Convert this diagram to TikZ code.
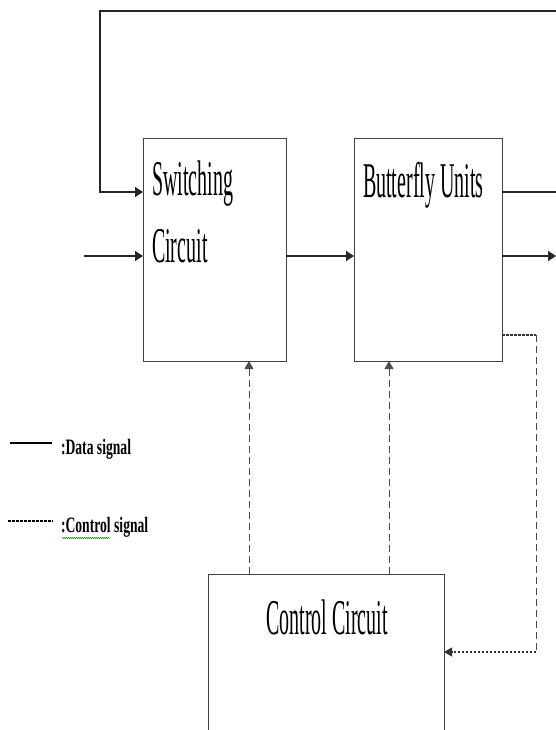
\documentclass[tikz,border=0pt]{standalone}
\usepackage{fontspec}
\usepackage{graphicx}
\setmainfont{Liberation Serif}
\usetikzlibrary{arrows.meta,decorations.pathmorphing}
\newcommand{\boxtxt}[1]{\scalebox{0.4}[1]{\fontsize{50}{60}\selectfont #1}}
\newcommand{\legtxt}[1]{\scalebox{0.62}[1]{\fontsize{22}{26}\selectfont\bfseries #1}}
\tikzset{
  blk/.style={draw=black!75, line width=0.9pt, rectangle, inner sep=0pt, outer sep=0pt, anchor=north west},
  lbl/.style={inner sep=0pt, outer sep=0pt, anchor=base west},
  data/.style={line width=1.3pt, black!85},
  dataarr/.style={data, -{Triangle[length=8pt,width=10pt]}},
  ctl/.style={line width=0.9pt, black!70, dash pattern=on 7pt off 4pt},
  ctldot/.style={line width=1.1pt, black!80, dash pattern=on 2.5pt off 1.5pt},
  ctlarr/.style={-{Triangle[length=8pt,width=9pt]}},
}
\begin{document}
\begin{tikzpicture}[x=1pt,y=-1pt]
\useasboundingbox (0,0) rectangle (556,730);
\clip (0,0) rectangle (556,730);
% blocks
\node[blk, minimum width=143pt, minimum height=223pt] (sw) at (143,138) {};
\node[blk, minimum width=148pt, minimum height=223pt] (bu) at (354,138) {};
\node[blk, minimum width=236pt, minimum height=220pt] (cc) at (208,574) {};
% labels
\node[lbl] (swt1) at (152,195) {\boxtxt{Switching}};
\node[lbl] (swt2) at (152,262) {\boxtxt{Circuit}};
\node[lbl] (but) at (363,197) {\boxtxt{Butterfly Units}};
\node[inner sep=0pt, anchor=base] (cct) at (327,634) {\boxtxt{Control Circuit}};
% helper coordinates
\coordinate (yA) at (0,192);
\coordinate (yB) at (0,256);
\coordinate (yC) at (0,335);
\coordinate (yD) at (0,652);
\coordinate (in) at (84,256);
\coordinate (out) at (556,256);
\coordinate (fbR) at (575,192);
\coordinate (fbTop) at (100,11);
\coordinate (dR) at (536,335);
\coordinate (xS) at (249,0);
\coordinate (xB) at (389,0);
% data connectors
\draw[dataarr] (bu.east |- yA) -- (fbR) |- (fbTop) |- (sw.west |- yA);
\draw[dataarr] (in) -- (sw.west |- yB);
\draw[dataarr] (sw.east |- yB) -- (bu.west |- yB);
\draw[dataarr] (bu.east |- yB) -- (out);
% control connectors
\draw[ctl, ctlarr] (cc.north -| xS) -- (sw.south -| xS);
\draw[ctl, ctlarr] (cc.north -| xB) -- (bu.south -| xB);
\draw[ctldot] (bu.east |- yC) -- (dR);
\draw[ctl] (dR) -- (dR |- yD);
\draw[ctldot, ctlarr] (dR |- yD) -- (cc.east |- yD);
% legend
\coordinate (l1a) at (10,443);
\coordinate (l1b) at (52,443);
\coordinate (l2a) at (8,521);
\coordinate (l2b) at (53,521);
\draw[line width=1.1pt, black] (l1a) -- (l1b);
\draw[line width=1.1pt, black, dash pattern=on 2.5pt off 1.5pt] (l2a) -- (l2b);
\node[lbl] (leg1) at (61,454) {\legtxt{:Data signal}};
\node[lbl] (leg2) at (61,532) {\legtxt{:Control signal}};
\coordinate (wv1) at (62,538);
\coordinate (wv2) at (110,538);
\draw[green!55!black, line width=0.5pt, decorate, decoration={snake, amplitude=0.7pt, segment length=2pt}] (wv1) -- (wv2);
\end{tikzpicture}
\end{document}
